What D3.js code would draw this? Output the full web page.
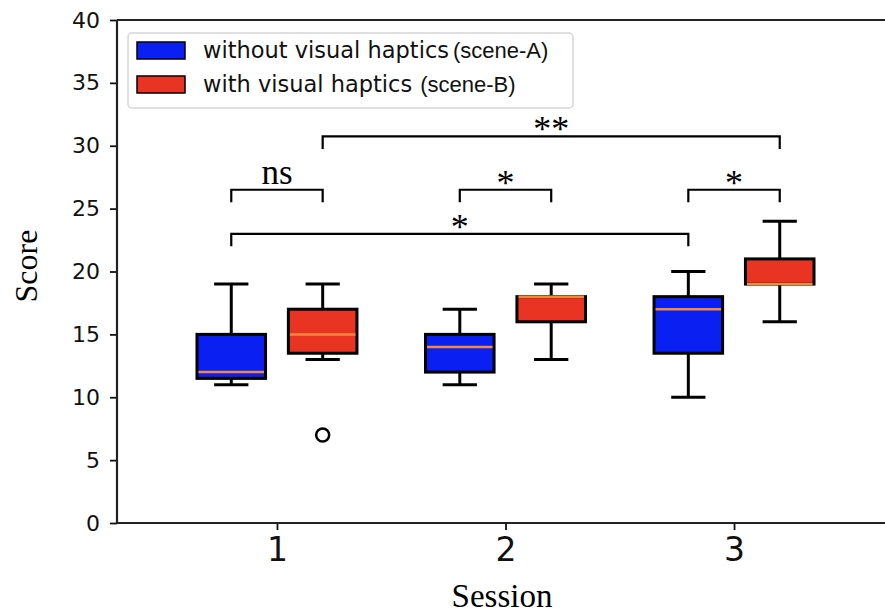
<!DOCTYPE html>
<html lang="en">
<head>
    <meta charset="UTF-8">
    <title>Score box plot</title>
    <script src="https://d3js.org/d3.v7.min.js"></script>
    <style>
        html, body {
            margin: 0;
            background: #fff;
        }
        svg { display: block; }
        .tick text { fill: #111; }
    </style>
</head>
<body>
<div id="vis"></div>
<script>
// data
var sessions = [1, 2, 3];
var seriesNames = ['without visual haptics', 'with visual haptics'];
var seriesTags = ['(scene-A)', '(scene-B)'];
var seriesColours = ['#0a1ff2', '#e93424'];

var blueLow = [11, 11, 10];
var blueQ1 = [11.5, 12, 13.5];
var blueMedian = [12, 14, 17];
var blueQ3 = [15, 15, 18];
var blueHigh = [19, 17, 20];
var blueOutliers = [[], [], []];

var redLow = [13, 13, 16];
var redQ1 = [13.5, 16, 19];
var redMedian = [15, 18, 19];
var redQ3 = [17, 18, 21];
var redHigh = [19, 19, 24];
var redOutliers = [[7], [], []];

var yTicks = [0, 5, 10, 15, 20, 25, 30, 35, 40];

// significance brackets: from session+offset to session+offset at score level
var bracketFrom = [0.8, 1.8, 2.8, 0.8, 1.2];
var bracketTo = [1.2, 2.2, 3.2, 2.8, 3.2];
var bracketLevel = [26.5, 26.5, 26.5, 23, 30.75];
var bracketLabel = ['ns', '*', '*', '*', '**'];

var width = 885, height = 615;
var margin = {top: 20, left: 117, bottom: 92};

var svg = d3.select('#vis')
    .append('svg')
    .attr('width', width)
    .attr('height', height);

var x_scale = d3.scaleLinear()
    .domain([0.3, 3.7])
    .range([margin.left, 894]);

var y_scale = d3.scaleLinear()
    .domain([0, 40])
    .range([height - margin.bottom, margin.top]);

var boxes = [];
sessions.forEach(function(s, i) {
    boxes.push({x: s - 0.2, low: blueLow[i], q1: blueQ1[i], med: blueMedian[i], q3: blueQ3[i], high: blueHigh[i], out: blueOutliers[i], fill: seriesColours[0]});
    boxes.push({x: s + 0.2, low: redLow[i], q1: redQ1[i], med: redMedian[i], q3: redQ3[i], high: redHigh[i], out: redOutliers[i], fill: seriesColours[1]});
});

var boxW = x_scale(0.3) - x_scale(0);
var capW = boxW / 2;
var lw = 3;

var g = svg.selectAll('.box')
    .data(boxes)
    .enter()
    .append('g')
    .attr('class', 'box');

// whiskers
g.append('line')
    .attr('x1', function(d) { return x_scale(d.x); })
    .attr('x2', function(d) { return x_scale(d.x); })
    .attr('y1', function(d) { return y_scale(d.q3); })
    .attr('y2', function(d) { return y_scale(d.high); })
    .attr('stroke', '#000').attr('stroke-width', lw);
g.append('line')
    .attr('x1', function(d) { return x_scale(d.x); })
    .attr('x2', function(d) { return x_scale(d.x); })
    .attr('y1', function(d) { return y_scale(d.q1); })
    .attr('y2', function(d) { return y_scale(d.low); })
    .attr('stroke', '#000').attr('stroke-width', lw);
g.append('line')
    .attr('x1', function(d) { return x_scale(d.x) - capW / 2; })
    .attr('x2', function(d) { return x_scale(d.x) + capW / 2; })
    .attr('y1', function(d) { return y_scale(d.high); })
    .attr('y2', function(d) { return y_scale(d.high); })
    .attr('stroke', '#000').attr('stroke-width', lw);
g.append('line')
    .attr('x1', function(d) { return x_scale(d.x) - capW / 2; })
    .attr('x2', function(d) { return x_scale(d.x) + capW / 2; })
    .attr('y1', function(d) { return y_scale(d.low); })
    .attr('y2', function(d) { return y_scale(d.low); })
    .attr('stroke', '#000').attr('stroke-width', lw);

g.append('rect')
    .attr('x', function(d) { return x_scale(d.x) - boxW / 2; })
    .attr('y', function(d) { return y_scale(d.q3); })
    .attr('width', boxW)
    .attr('height', function(d) { return y_scale(d.q1) - y_scale(d.q3); })
    .attr('fill', function(d) { return d.fill; })
    .attr('stroke', '#000')
    .attr('stroke-width', lw);

g.append('line')
    .attr('x1', function(d) { return x_scale(d.x) - boxW / 2 + 1.5; })
    .attr('x2', function(d) { return x_scale(d.x) + boxW / 2 - 1.5; })
    .attr('y1', function(d) { return y_scale(d.med); })
    .attr('y2', function(d) { return y_scale(d.med); })
    .attr('stroke', '#f5893a').attr('stroke-width', 2.5);

g.selectAll('circle')
    .data(function(d) { return d.out.map(function(v) { return {x: d.x, v: v}; }); })
    .enter()
    .append('circle')
    .attr('cx', function(d) { return x_scale(d.x); })
    .attr('cy', function(d) { return y_scale(d.v); })
    .attr('r', 6.5)
    .attr('fill', 'none')
    .attr('stroke', '#000')
    .attr('stroke-width', 2.5);

// axes
var y_axis = d3.axisLeft(y_scale).tickValues(yTicks).tickSize(7).tickPadding(10);
var x_axis = d3.axisBottom(x_scale).tickValues(sessions).tickFormat(d3.format('d')).tickSize(7).tickPadding(8);

svg.append('g')
    .attr('class', 'y axis')
    .attr('transform', 'translate(' + margin.left + ',0)')
    .call(y_axis)
    .call(function(a) {
        a.select('.domain').remove();
        a.selectAll('.tick line').attr('stroke', '#111').attr('stroke-width', 1.8);
        a.selectAll('.tick text').style('font-family', 'DejaVu Sans').style('font-size', '22px');
    });

svg.append('g')
    .attr('class', 'x axis')
    .attr('transform', 'translate(0,' + y_scale(0) + ')')
    .call(x_axis)
    .call(function(a) {
        a.select('.domain').remove();
        a.selectAll('.tick line').attr('stroke', '#111').attr('stroke-width', 1.8);
        a.selectAll('.tick text').style('font-family', 'DejaVu Sans').style('font-size', '33px');
    });

// spines
svg.append('line')
    .attr('x1', margin.left).attr('x2', width)
    .attr('y1', y_scale(0)).attr('y2', y_scale(0))
    .attr('stroke', '#222').attr('stroke-width', 2.2);
svg.append('line')
    .attr('x1', margin.left).attr('x2', width)
    .attr('y1', y_scale(40)).attr('y2', y_scale(40))
    .attr('stroke', '#222').attr('stroke-width', 2.2);
svg.append('line')
    .attr('x1', margin.left).attr('x2', margin.left)
    .attr('y1', y_scale(0)).attr('y2', y_scale(40))
    .attr('stroke', '#222').attr('stroke-width', 2.2);

// axis titles
svg.append('text')
    .attr('transform', 'translate(37,266) rotate(-90)')
    .attr('text-anchor', 'middle')
    .style('font-family', 'Liberation Serif')
    .style('font-size', '32px')
    .text('Score');
svg.append('text')
    .attr('x', 502)
    .attr('y', 607)
    .attr('text-anchor', 'middle')
    .style('font-family', 'Liberation Serif')
    .style('font-size', '33px')
    .text('Session');

// significance brackets
var drop = 1;
bracketLabel.forEach(function(lab, i) {
    var x1 = x_scale(bracketFrom[i]), x2 = x_scale(bracketTo[i]);
    var yTop = y_scale(bracketLevel[i]), yBot = y_scale(bracketLevel[i] - drop);
    svg.append('path')
        .attr('d', 'M' + x1 + ',' + yBot + 'V' + yTop + 'H' + x2 + 'V' + yBot)
        .attr('fill', 'none')
        .attr('stroke', '#000')
        .attr('stroke-width', 2.2);
    svg.append('text')
        .attr('x', (x1 + x2) / 2)
        .attr('y', lab === 'ns' ? yTop - 6 : yTop + 5)
        .attr('text-anchor', 'middle')
        .style('font-family', 'Liberation Serif')
        .style('font-size', lab === 'ns' ? '35px' : '36px')
        .text(lab);
});

// legend
var legend = svg.append('g').attr('transform', 'translate(128,33)');
legend.append('rect')
    .attr('width', 445).attr('height', 75)
    .attr('rx', 4)
    .attr('fill', '#fff').attr('fill-opacity', 0.85)
    .attr('stroke', '#d6d6d6').attr('stroke-width', 1.5);
seriesNames.forEach(function(name, i) {
    var row = legend.append('g').attr('transform', 'translate(0,' + (9 + i * 34) + ')');
    row.append('rect')
        .attr('x', 9).attr('width', 48).attr('height', 17)
        .attr('fill', seriesColours[i])
        .attr('stroke', '#000').attr('stroke-width', 1.5);
    var t = row.append('text')
        .attr('x', 75).attr('y', 16)
        .style('font-family', 'DejaVu Sans')
        .style('font-size', '22.5px')
        .style('fill', '#111');
    t.append('tspan').text(name);
    t.append('tspan')
        .attr('dx', i === 0 ? 4 : 8)
        .style('font-family', 'Liberation Sans')
        .style('font-size', '22px')
        .text(seriesTags[i]);
});
</script>
</body>
</html>
